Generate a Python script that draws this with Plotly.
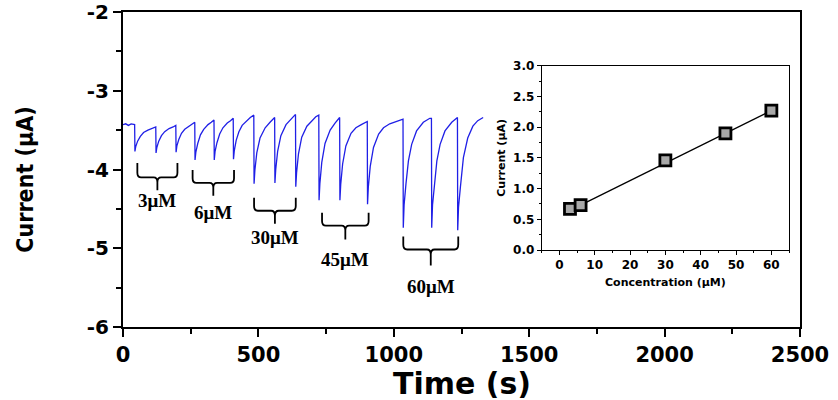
import plotly.graph_objects as go

# ---------------- data ----------------
time_s = [
    0, 10, 20, 30, 43,
    44, 47, 54, 64, 76, 92, 109, 121,
    122, 125, 132, 142, 154, 170, 185, 195,
    196, 199, 206, 216, 228, 244, 255, 265,
    266, 269, 276, 286, 298, 314, 326, 336,
    337, 340, 347, 357, 369, 385, 397, 407,
    408, 411, 418, 428, 440, 456, 470, 483,
    484, 487, 494, 506, 525, 543, 553, 560,
    561, 564, 571, 583, 602, 620, 630, 637,
    638, 641, 648, 660, 679, 697, 712, 723,
    724, 727, 734, 746, 765, 783, 793, 800,
    801, 804, 811, 823, 842, 860, 880, 902,
    903, 906, 913, 925, 944, 962, 985, 1010, 1034,
    1035, 1038, 1045, 1054, 1066, 1084, 1109, 1133, 1139,
    1140, 1143, 1150, 1159, 1171, 1189, 1214, 1235,
    1236, 1239, 1246, 1257, 1273, 1292, 1310, 1330,
]
current_uA = [
    -3.43, -3.42, -3.44, -3.42, -3.43,
    -3.77, -3.71, -3.64, -3.58, -3.53, -3.50, -3.48, -3.46,
    -3.79, -3.72, -3.64, -3.57, -3.52, -3.48, -3.46, -3.44,
    -3.78, -3.70, -3.62, -3.54, -3.49, -3.45, -3.42, -3.40,
    -3.88, -3.78, -3.67, -3.56, -3.49, -3.43, -3.40, -3.37,
    -3.88, -3.77, -3.66, -3.55, -3.47, -3.41, -3.38, -3.35,
    -3.87, -3.76, -3.63, -3.52, -3.44, -3.38, -3.34, -3.31,
    -4.18, -4.01, -3.79, -3.60, -3.47, -3.40, -3.36, -3.34,
    -4.17, -4.00, -3.77, -3.57, -3.43, -3.36, -3.32, -3.30,
    -4.22, -4.04, -3.80, -3.59, -3.45, -3.38, -3.33, -3.31,
    -4.39, -4.18, -3.91, -3.67, -3.50, -3.41, -3.37, -3.34,
    -4.39, -4.19, -3.93, -3.70, -3.54, -3.47, -3.43, -3.39,
    -4.44, -4.22, -3.96, -3.72, -3.55, -3.47, -3.42, -3.39, -3.36,
    -4.74, -4.45, -4.18, -3.89, -3.68, -3.51, -3.40, -3.35, -3.35,
    -4.74, -4.45, -4.18, -3.89, -3.68, -3.51, -3.40, -3.34,
    -4.77, -4.48, -4.22, -3.85, -3.60, -3.45, -3.38, -3.34,
]

conc_uM = [3, 6, 30, 47, 60]
resp_uA = [0.67, 0.73, 1.46, 1.90, 2.27]
fit_x = [3, 60]
fit_y = [0.645, 2.27]

brace_labels = ["3μM", "6μM", "30μM", "45μM", "60μM"]
brace_start = [53, 257, 484, 735, 1035]
brace_end = [201, 410, 638, 907, 1238]

main_x_ticks = [0, 500, 1000, 1500, 2000, 2500]
main_y_ticks = [-6, -5, -4, -3, -2]
main_y_text = ["-6", "-5", "-4", "-3", "-2"]
inset_x_ticks = [0, 10, 20, 30, 40, 50, 60]
inset_y_ticks = [0.0, 0.5, 1.0, 1.5, 2.0, 2.5, 3.0]

# brace vertical levels (arm top, bar, tip, label centre) in axis units
brace_top = [-3.918, -4.006, -4.360, -4.549, -4.852]
brace_bar = [-4.101, -4.170, -4.524, -4.713, -5.016]
brace_tip = [-4.265, -4.334, -4.688, -4.890, -5.218]
brace_lab = [-4.397, -4.549, -4.864, -5.142, -5.483]

# ---------------- figure ----------------
BOLD = dict(family="DejaVu Sans", weight="bold", color="black")

fig = go.Figure()

fig.add_trace(go.Scatter(
    x=time_s, y=current_uA, mode="lines",
    line=dict(color="#1f1fe6", width=1.3),
    xaxis="x", yaxis="y", showlegend=False, hoverinfo="skip",
))

fig.add_trace(go.Scatter(
    x=fit_x, y=fit_y, mode="lines",
    line=dict(color="black", width=1.3),
    xaxis="x2", yaxis="y2", showlegend=False,
))
fig.add_trace(go.Scatter(
    x=conc_uM, y=resp_uA, mode="markers",
    marker=dict(symbol="square", size=11, color="#a8a8a8",
                line=dict(color="black", width=2.8)),
    xaxis="x2", yaxis="y2", showlegend=False,
))

shapes = []
annotations = []
a = 0.06   # corner radius in y units
b = 14     # corner radius in x units
for lab, t0, t1, top, bar, tip, ly in zip(brace_labels, brace_start, brace_end,
                                          brace_top, brace_bar, brace_tip, brace_lab):
    tm = (t0 + t1) / 2
    path = (
        f"M {t0},{top} L {t0},{bar + a} Q {t0},{bar} {t0 + b},{bar} "
        f"L {tm - b},{bar} Q {tm},{bar} {tm},{bar - a} L {tm},{tip} "
        f"M {t1},{top} L {t1},{bar + a} Q {t1},{bar} {t1 - b},{bar} "
        f"L {tm + b},{bar} Q {tm},{bar} {tm},{bar - a}"
    )
    shapes.append(dict(type="path", path=path, xref="x", yref="y",
                       line=dict(color="black", width=1.8)))
    annotations.append(dict(
        x=tm, y=ly, xref="x", yref="y", text=lab, showarrow=False,
        font=dict(family="Liberation Serif", weight="bold", size=19, color="black"),
        xanchor="center", yanchor="middle",
    ))

# main axis titles as annotations for exact placement
annotations.append(dict(
    x=-0.145, y=0.467, xref="paper", yref="paper", text="Current (μA)",
    textangle=-90, showarrow=False, xanchor="center", yanchor="middle",
    font=dict(family="Liberation Sans Narrow, DejaVu Sans Condensed, Liberation Sans",
              weight="bold", size=23, color="black"),
))
annotations.append(dict(
    x=0.5, y=-0.178, xref="paper", yref="paper", text="Time (s)",
    showarrow=False, xanchor="center", yanchor="middle",
    font=dict(size=30, **BOLD),
))

fig.update_layout(
    width=838, height=400,
    margin=dict(l=123, r=38, t=12, b=73, autoexpand=False),
    paper_bgcolor="white", plot_bgcolor="white",
    shapes=shapes, annotations=annotations,
    xaxis=dict(
        range=[0, 2500], tickvals=main_x_ticks, ticks="outside", ticklen=8,
        tickwidth=1.5, tickcolor="black", showline=True, linecolor="black",
        linewidth=2, mirror=True, showgrid=False, zeroline=False,
        tickfont=dict(size=21, **BOLD), automargin=False,
        ticklabeloverflow="allow",
        minor=dict(dtick=250, ticks="outside", ticklen=5, tickwidth=1.5,
                   tickcolor="black", showgrid=False),
        domain=[0, 1],
    ),
    yaxis=dict(
        range=[-6, -2], tickvals=main_y_ticks, ticktext=main_y_text,
        ticks="outside", ticklen=8,
        tickwidth=1.5, tickcolor="black", showline=True, linecolor="black",
        linewidth=2, mirror=True, showgrid=False, zeroline=False,
        tickfont=dict(size=20, **BOLD), automargin=False,
        ticklabeloverflow="allow",
        minor=dict(dtick=0.5, ticks="outside", ticklen=5, tickwidth=1.5,
                   tickcolor="black", showgrid=False),
        domain=[0, 1],
    ),
    xaxis2=dict(
        domain=[0.6185, 0.9838], anchor="y2",
        range=[-5, 65], tickvals=inset_x_ticks, ticks="outside", ticklen=4,
        tickwidth=1, tickcolor="black", showline=True, linecolor="black",
        linewidth=1, mirror=True, showgrid=False, zeroline=False,
        tickfont=dict(size=12, **BOLD),
        minor=dict(dtick=5, ticks="outside", ticklen=2, tickwidth=1,
                   tickcolor="black", showgrid=False),
        title=dict(text="Concentration (μM)", font=dict(size=11, **BOLD), standoff=6),
    ),
    yaxis2=dict(
        domain=[0.2444, 0.8295], anchor="x2",
        range=[0, 3], tickvals=inset_y_ticks, tickformat=".1f", ticks="outside",
        ticklen=4, tickwidth=1, tickcolor="black", showline=True,
        linecolor="black", linewidth=1, mirror=True, showgrid=False,
        zeroline=False, tickfont=dict(size=12, **BOLD),
        minor=dict(dtick=0.25, ticks="outside", ticklen=2, tickwidth=1,
                   tickcolor="black", showgrid=False),
        title=dict(text="Current (μA)", font=dict(size=11, **BOLD), standoff=5),
    ),
)

fig.write_html("out.html")
